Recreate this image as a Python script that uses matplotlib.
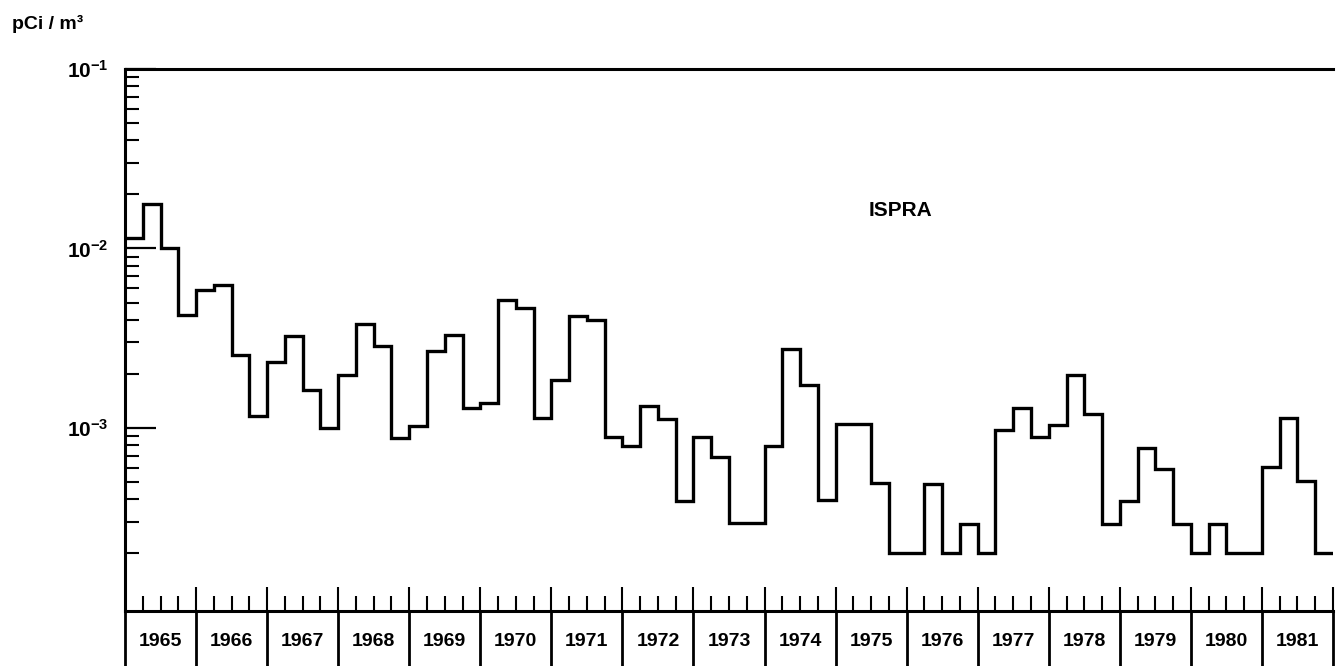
import numpy as np
import matplotlib.pyplot as plt
from matplotlib.ticker import FixedLocator, NullFormatter, FixedFormatter

plt.rcParams['font.family'] = ['Liberation Sans', 'DejaVu Sans']
plt.rcParams['mathtext.fontset'] = 'custom'
plt.rcParams['mathtext.rm'] = 'Liberation Sans:bold'
plt.rcParams['mathtext.bf'] = 'Liberation Sans:bold'
plt.rcParams['mathtext.it'] = 'Liberation Sans:bold'

# quarterly means at Ispra, pCi/m3
years = list(range(1965, 1982))
q1965 = [0.0114, 0.0176, 0.0100, 0.00427]
q1966 = [0.00587, 0.00624, 0.00254, 0.00117]
q1967 = [0.00234, 0.00326, 0.00163, 0.00100]
q1968 = [0.00197, 0.00379, 0.00286, 0.000883]
q1969 = [0.00103, 0.00269, 0.00328, 0.00129]
q1970 = [0.00138, 0.00514, 0.00465, 0.00114]
q1971 = [0.00184, 0.00419, 0.00402, 0.000893]
q1972 = [0.000796, 0.00133, 0.00112, 0.000392]
q1973 = [0.000893, 0.000689, 0.000295, 0.000295]
q1974 = [0.000789, 0.00274, 0.00174, 0.000397]
q1975 = [0.00105, 0.00105, 0.000493, 0.000200]
q1976 = [0.000200, 0.000490, 0.000200, 0.000290]
q1977 = [0.000200, 0.000970, 0.00129, 0.000890]
q1978 = [0.00104, 0.00197, 0.00119, 0.000290]
q1979 = [0.000390, 0.000775, 0.000590, 0.000290]
q1980 = [0.000200, 0.000290, 0.000200, 0.000200]
q1981 = [0.000607, 0.00114, 0.000506, 0.000200]

values = np.array(q1965 + q1966 + q1967 + q1968 + q1969 + q1970 + q1971 + q1972
                  + q1973 + q1974 + q1975 + q1976 + q1977 + q1978 + q1979 + q1980 + q1981)
edges = years[0] + np.arange(len(values) + 1) / 4

W, H = 1343, 666
fig = plt.figure(figsize=(W / 100, H / 100), dpi=100)
ax = fig.add_axes([125 / W, 55 / H, (1333 - 125) / W, 542 / H])

ax.stairs(values, edges, baseline=None, color='black', linewidth=2.4)

ax.set_yscale('log')
ax.set_ylim(10 ** -4.0195, 0.1)
ax.set_xlim(1965, 1982)

for s in ['left', 'top', 'bottom']:
    ax.spines[s].set_linewidth(2.2)
ax.spines['right'].set_visible(False)

# y ticks
ax.yaxis.set_major_locator(FixedLocator([1e-3, 1e-2, 1e-1]))
ax.yaxis.set_major_formatter(FixedFormatter([r'$10^{-3}$', r'$10^{-2}$', r'$10^{-1}$']))
minors = [m * 10.0 ** e for e in (-4, -3, -2) for m in range(2, 10)]
ax.yaxis.set_minor_locator(FixedLocator(minors))
ax.yaxis.set_minor_formatter(NullFormatter())
ax.tick_params(axis='y', which='major', direction='in', length=22, width=1.6,
               labelsize=15, pad=12)
ax.tick_params(axis='y', which='minor', direction='in', length=10, width=1.5)

# x ticks: years and quarters, no labels (labels sit in the table below)
ax.xaxis.set_major_locator(FixedLocator(years[1:] + [1982]))
ax.xaxis.set_minor_locator(FixedLocator([y + k / 4 for y in years for k in (1, 2, 3)]))
ax.xaxis.set_major_formatter(NullFormatter())
ax.tick_params(axis='x', which='major', direction='in', length=17, width=1.5)
ax.tick_params(axis='x', which='minor', direction='in', length=11, width=1.5)

# year table under the axis
tr = ax.get_xaxis_transform()
for y in years + [1982]:
    ax.plot([y, y], [0, -0.11], transform=tr, color='black', linewidth=2.0,
            clip_on=False, solid_capstyle='butt')
for y in years:
    ax.text(y + 0.5, -0.0554, str(y), transform=tr, ha='center', va='center',
            fontsize=14, fontweight='bold')

fig.text(12 / W, 1 - 24 / H, 'pCi / m³', ha='left', va='center',
         fontsize=14, fontweight='bold')
fig.text(900 / W, 1 - 210 / H, 'ISPRA', ha='center', va='center',
         fontsize=15, fontweight='bold')

fig.savefig('out.png', dpi=100)
